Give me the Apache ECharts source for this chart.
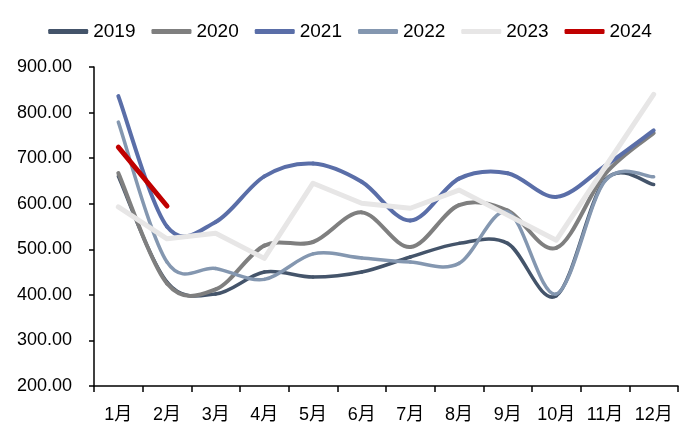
<!DOCTYPE html>
<html>
<head>
<meta charset="utf-8">
<script src="https://cdn.jsdelivr.net/npm/echarts@6/dist/echarts.min.js"></script>
<style>
  html, body { margin: 0; padding: 0; background: #ffffff; }
  #chart { width: 700px; height: 445px; }
</style>
</head>
<body>
<div id="chart"></div>
<script>
// 月份
const months = ['1月', '2月', '3月', '4月', '5月', '6月', '7月', '8月', '9月', '10月', '11月', '12月']

// 各年数据
const y2019 = [660, 428, 402, 450, 439, 450, 483, 513, 513, 398, 652, 642]
const y2020 = [667, 425, 412, 508, 516, 581, 505, 597, 585, 503, 665, 755]
const y2021 = [836, 550, 560, 660, 688, 648, 563, 655, 667, 615, 683, 761]
const y2022 = [779, 472, 458, 434, 490, 481, 472, 469, 582, 402, 650, 659]
const y2023 = [593, 523, 535, 480, 645, 601, 590, 630, 575, 520, 680, 840]
const y2024 = [724, 595]

const yearNames = ['2019', '2020', '2021', '2022', '2023', '2024']
const colors = ['#44546A', '#7F7F7F', '#5A6EA8', '#8497B0', '#E7E6E6', '#C00000']

// 平滑曲线（类似Excel的平滑线），每段用贝塞尔曲线画
function makeSmooth(name, values, color, width, z) {
  return {
    name: name,
    type: 'custom',
    z: z,
    itemStyle: { color: color },
    data: values.map((v, i) => [i, v]),
    encode: { x: 0, y: 1 },
    renderItem: function (params, api) {
      let i = params.dataIndex
      let n = values.length
      if (i >= n - 1) return
      let p0 = api.coord([Math.max(i - 1, 0), values[Math.max(i - 1, 0)]])
      let p1 = api.coord([i, values[i]])
      let p2 = api.coord([i + 1, values[i + 1]])
      let p3 = api.coord([Math.min(i + 2, n - 1), values[Math.min(i + 2, n - 1)]])
      return {
        type: 'bezierCurve',
        shape: {
          x1: p1[0], y1: p1[1],
          x2: p2[0], y2: p2[1],
          cpx1: p1[0] + (p2[0] - p0[0]) / 6, cpy1: p1[1] + (p2[1] - p0[1]) / 6,
          cpx2: p2[0] - (p3[0] - p1[0]) / 6, cpy2: p2[1] - (p3[1] - p1[1]) / 6
        },
        style: { stroke: color, lineWidth: width, fill: null, lineCap: 'round' }
      }
    }
  }
}

function makeLine(name, data, color, width, z) {
  return {
    name: name,
    type: 'line',
    z: z,
    data: data,
    symbol: 'none',
    lineStyle: { color: color, width: width, cap: 'round', join: 'round' },
    itemStyle: { color: color }
  }
}

let chart = echarts.init(document.getElementById('chart'))

let option = {
  animation: false,
  color: colors,
  legend: {
    data: yearNames,
    top: 17,
    left: 'center',
    icon: 'roundRect',
    itemWidth: 40,
    itemHeight: 5,
    itemGap: 16,
    textStyle: { fontFamily: 'Liberation Sans', fontSize: 19, color: '#000' }
  },
  grid: { left: 94, right: 22, top: 67, bottom: 59 },
  xAxis: {
    type: 'category',
    data: months,
    axisLine: { lineStyle: { color: '#000', width: 1.5 } },
    axisTick: { show: true, length: 6, lineStyle: { color: '#000', width: 1.5 } },
    axisLabel: { interval: 0, margin: 20, fontSize: 18, color: '#000', fontFamily: 'Liberation Sans, Noto Sans CJK SC' }
  },
  yAxis: {
    type: 'value',
    min: 200,
    max: 900,
    interval: 100,
    splitLine: { show: false },
    axisLine: { show: true, lineStyle: { color: '#000', width: 1.5 } },
    axisTick: { show: true, length: 5, lineStyle: { color: '#000', width: 1.5 } },
    axisLabel: {
      margin: 22,
      fontSize: 18,
      color: '#000',
      fontFamily: 'Liberation Sans',
      formatter: v => v.toFixed(2)
    }
  },
  series: [
    makeSmooth('2019', y2019, colors[0], 3.5, 2),
    makeSmooth('2020', y2020, colors[1], 4, 2),
    makeSmooth('2021', y2021, colors[2], 4, 2),
    makeSmooth('2022', y2022, colors[3], 3.5, 2),
    makeLine('2023', y2023, colors[4], 5, 2),
    makeLine('2024', y2024, colors[5], 5, 3)
  ]
}

chart.setOption(option)
</script>
</body>
</html>
